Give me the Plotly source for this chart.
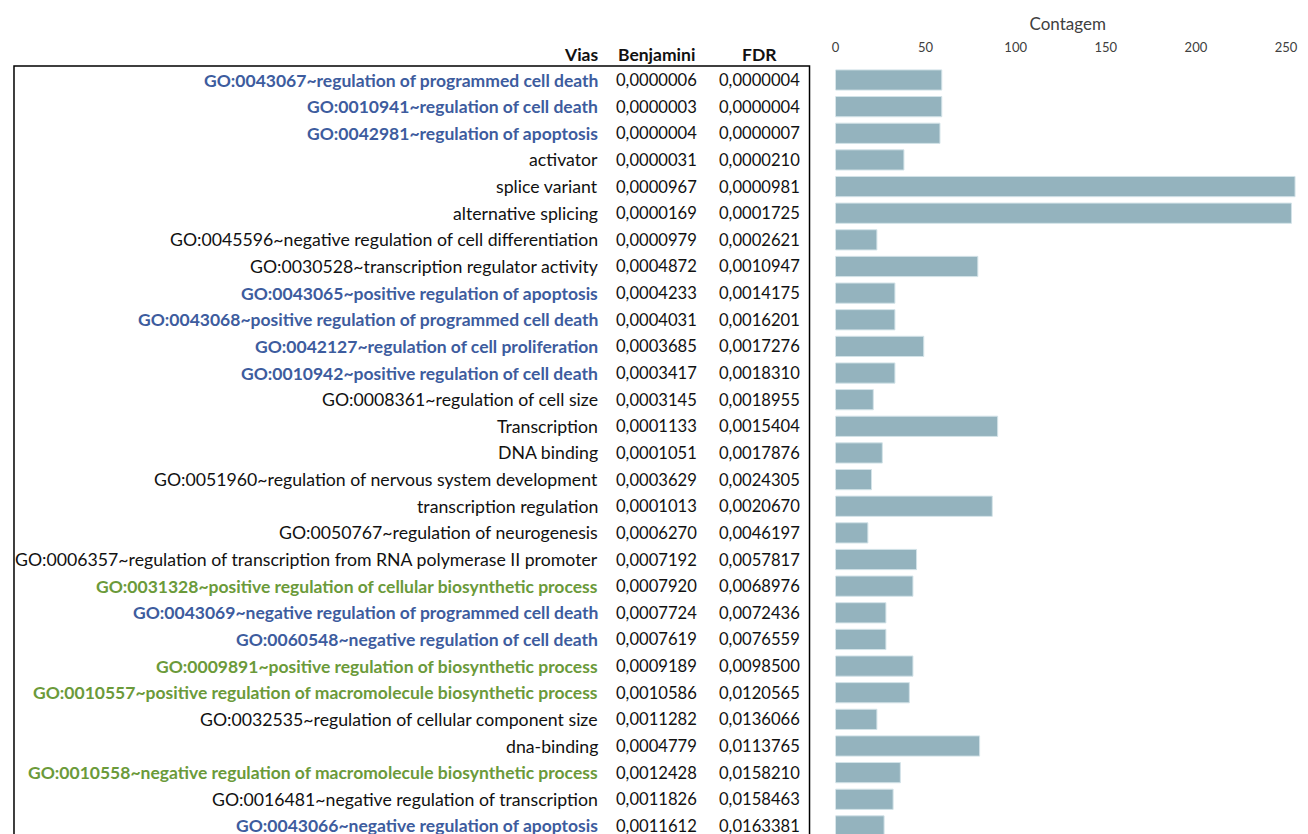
import plotly.graph_objects as go

# rows top to bottom
vias = [
    "GO:0043067~regulation of programmed cell death",
    "GO:0010941~regulation of cell death",
    "GO:0042981~regulation of apoptosis",
    "activator",
    "splice variant",
    "alternative splicing",
    "GO:0045596~negative regulation of cell differentiation",
    "GO:0030528~transcription regulator activity",
    "GO:0043065~positive regulation of apoptosis",
    "GO:0043068~positive regulation of programmed cell death",
    "GO:0042127~regulation of cell proliferation",
    "GO:0010942~positive regulation of cell death",
    "GO:0008361~regulation of cell size",
    "Transcription",
    "DNA binding",
    "GO:0051960~regulation of nervous system development",
    "transcription regulation",
    "GO:0050767~regulation of neurogenesis",
    "GO:0006357~regulation of transcription from RNA polymerase II promoter",
    "GO:0031328~positive regulation of cellular biosynthetic process",
    "GO:0043069~negative regulation of programmed cell death",
    "GO:0060548~negative regulation of cell death",
    "GO:0009891~positive regulation of biosynthetic process",
    "GO:0010557~positive regulation of macromolecule biosynthetic process",
    "GO:0032535~regulation of cellular component size",
    "dna-binding",
    "GO:0010558~negative regulation of macromolecule biosynthetic process",
    "GO:0016481~negative regulation of transcription",
    "GO:0043066~negative regulation of apoptosis",
]
benjamini = [
    "0,0000006", "0,0000003", "0,0000004", "0,0000031", "0,0000967", "0,0000169",
    "0,0000979", "0,0004872", "0,0004233", "0,0004031", "0,0003685", "0,0003417",
    "0,0003145", "0,0001133", "0,0001051", "0,0003629", "0,0001013", "0,0006270",
    "0,0007192", "0,0007920", "0,0007724", "0,0007619", "0,0009189", "0,0010586",
    "0,0011282", "0,0004779", "0,0012428", "0,0011826", "0,0011612",
]
fdr = [
    "0,0000004", "0,0000004", "0,0000007", "0,0000210", "0,0000981", "0,0001725",
    "0,0002621", "0,0010947", "0,0014175", "0,0016201", "0,0017276", "0,0018310",
    "0,0018955", "0,0015404", "0,0017876", "0,0024305", "0,0020670", "0,0046197",
    "0,0057817", "0,0068976", "0,0072436", "0,0076559", "0,0098500", "0,0120565",
    "0,0136066", "0,0113765", "0,0158210", "0,0158463", "0,0163381",
]
contagem = [59, 59, 58, 38, 255, 253, 23, 79, 33, 33, 49, 33, 21, 90, 26, 20, 87,
            18, 45, 43, 28, 28, 43, 41, 23, 80, 36, 32, 27]
# group: a = apoptosis/cell death (blue), b = biosynthesis (green), "" = plain
grupo = ["a", "a", "a", "", "", "", "", "", "a", "a", "a", "a", "", "", "", "", "",
         "", "", "b", "a", "a", "b", "b", "", "", "b", "", "a"]
x_ticks = [0, 50, 100, 150, 200, 250]

# page body has an 8px margin on each side, so only 8..1300 px of the window is usable
OFF = 8
W, H = 1308 - 2 * OFF, 834 - OFF
FONT = "Lato"
cores = {"a": "#3d5c9e", "b": "#6b9a3a", "": "#111111"}
rows = list(range(len(vias)))


def px(sx):
    return (sx - OFF) / W


def py(sy):
    return 1 - (sy - OFF) / H


fig = go.Figure()
fig.add_trace(go.Bar(
    x=contagem, y=rows, orientation="h",
    marker=dict(color="#94b3be", line=dict(color="#d3e3e8", width=1)),
    width=0.76, showlegend=False, hoverinfo="x",
))

annotations = []
for i, (v, b, f, g) in enumerate(zip(vias, benjamini, fdr, grupo)):
    txt = f"<b>{v}</b>" if g else v
    annotations.append(dict(x=px(598), y=i, xref="paper", yref="y", text=txt,
                            xanchor="right", showarrow=False,
                            font=dict(color=cores[g], size=17.5 if g else 17.7, family=FONT)))
    annotations.append(dict(x=px(655), y=i, xref="paper", yref="y", text=b,
                            xanchor="center", showarrow=False,
                            font=dict(color="#111111", size=16.6, family=FONT)))
    annotations.append(dict(x=px(758), y=i, xref="paper", yref="y", text=f,
                            xanchor="center", showarrow=False,
                            font=dict(color="#111111", size=16.6, family=FONT)))

for txt, x, anchor in [("<b>Vias</b>", 598, "right"), ("<b>Benjamini</b>", 655, "center"),
                       ("<b>FDR</b>", 758, "center")]:
    annotations.append(dict(x=px(x), y=py(54), xref="paper", yref="paper", text=txt,
                            xanchor=anchor, yanchor="middle", showarrow=False,
                            font=dict(color="#111111", size=17.5, family=FONT)))

row0, step = 80, 26.64
top = 56
x0_px, x250_px = 834, 1286  # a little tighter than the original so "250" stays visible
scale = (x250_px - x0_px) / 250
fig.update_layout(
    width=W, height=H, margin=dict(l=0, r=0, t=0, b=0),
    paper_bgcolor="white", plot_bgcolor="white",
    font=dict(family=FONT, color="#404040"),
    xaxis=dict(domain=[px(x0_px), 1], range=[0, (1300 - x0_px) / scale], side="top",
               tickvals=x_ticks, showgrid=False, zeroline=False, showline=False,
               ticklabeloverflow="allow",
               tickfont=dict(size=13, color="#404040"),
               title=dict(text="Contagem", font=dict(size=17, color="#404040"), standoff=4)),
    yaxis=dict(domain=[0, py(top)],
               range=[(834 - row0) / step, (top - row0) / step],
               showticklabels=False, showgrid=False, zeroline=False, showline=False),
    annotations=annotations,
    shapes=[dict(type="rect", xref="paper", yref="paper", x0=px(10), x1=px(808),
                 y0=-0.05, y1=py(66), line=dict(color="black", width=1.5))],
)

fig.write_html("out.html")
